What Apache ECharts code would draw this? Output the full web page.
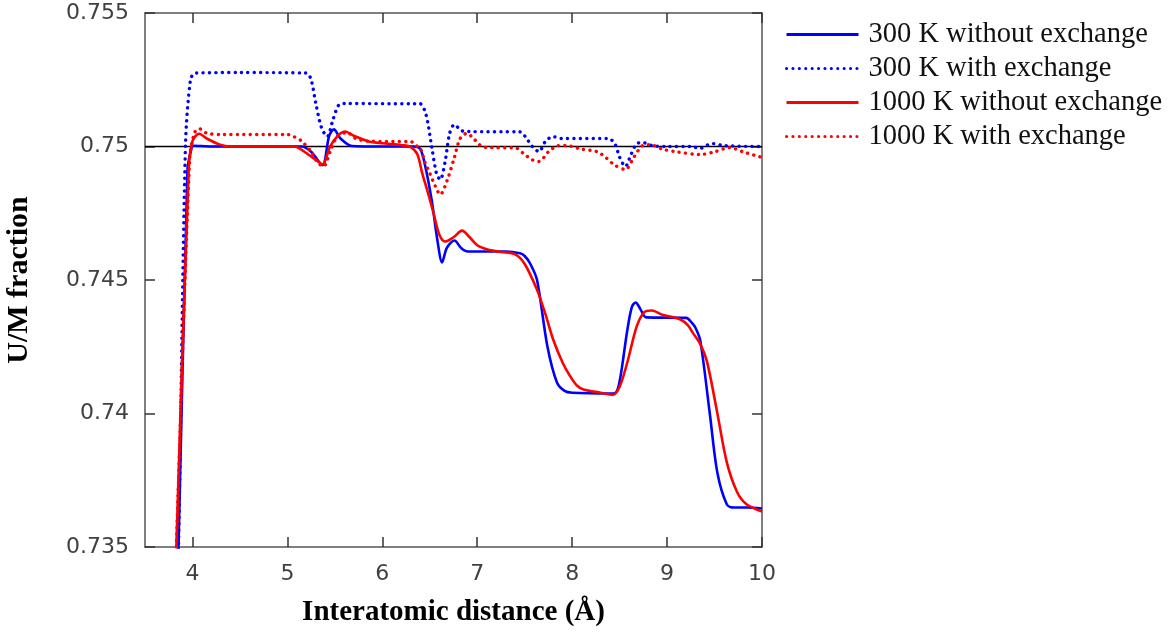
<!DOCTYPE html>
<html>
<head>
<meta charset="utf-8">
<script src="https://cdn.jsdelivr.net/npm/echarts@6/dist/echarts.min.js"></script>
<style>
html,body{margin:0;padding:0;background:#fff;}
#chart{width:1174px;height:635px;}
</style>
</head>
<body>
<div id="chart"></div>
<script>
// ---- data ----
const seriesNames = ['300 K without exchange', '300 K with exchange', '1000 K without exchange', '1000 K with exchange'];
const xTickValues = [4, 5, 6, 7, 8, 9, 10];
const referenceLevel = 0.75;
const xRange = [3.5, 10];
const yRange = [0.735, 0.755];

const k300NoExchange = [
  [3.80, 0.7295], [3.853, 0.735], [3.947, 0.7491], [3.98, 0.74978], [4.01, 0.75003], [4.2, 0.75],
  [5.15, 0.75], [5.25, 0.7498], [5.37, 0.7493], [5.44, 0.7504], [5.49, 0.75064], [5.56, 0.7503],
  [5.68, 0.75002], [6.0, 0.75], [6.33, 0.75], [6.40, 0.7499], [6.45, 0.7493], [6.52, 0.7480],
  [6.58, 0.7465], [6.63, 0.74566], [6.68, 0.7462], [6.76, 0.74648], [6.83, 0.7462], [6.90, 0.74607],
  [7.3, 0.74607], [7.45, 0.746], [7.50, 0.7459], [7.56, 0.7456], [7.63, 0.7450], [7.74, 0.7425],
  [7.84, 0.74116], [7.92, 0.74085], [8.0, 0.74078], [8.4, 0.74075], [8.45, 0.74076], [8.50, 0.7412],
  [8.58, 0.7431], [8.63, 0.7440], [8.67, 0.74416], [8.72, 0.7439], [8.78, 0.7436], [9.2, 0.74358],
  [9.26, 0.7434], [9.30, 0.7432], [9.35, 0.74273], [9.45, 0.7400], [9.53, 0.73778], [9.63, 0.73659],
  [9.70, 0.73648], [9.84, 0.73648], [10.0, 0.73644]
];
const k300Exchange = [
  [3.80, 0.7282], [3.853, 0.735], [3.926, 0.7500], [3.979, 0.7525], [4.03, 0.75275], [4.5, 0.75277],
  [5.20, 0.75275], [5.25, 0.7525], [5.30, 0.7516], [5.36, 0.7507], [5.42, 0.75037], [5.48, 0.7510],
  [5.54, 0.75155], [5.60, 0.75161], [6.35, 0.7516], [6.40, 0.7516], [6.46, 0.7512], [6.52, 0.7500],
  [6.57, 0.7490], [6.61, 0.74876], [6.66, 0.7494], [6.71, 0.7505], [6.76, 0.75082], [6.83, 0.7506],
  [6.90, 0.75056], [7.45, 0.75055], [7.52, 0.7503], [7.58, 0.7500], [7.65, 0.74981], [7.72, 0.7502],
  [7.80, 0.75037], [7.88, 0.7503], [8.38, 0.7503], [8.45, 0.7501], [8.50, 0.7496], [8.56, 0.74925],
  [8.62, 0.7497], [8.68, 0.7501], [8.74, 0.75015], [8.85, 0.75003], [9.0, 0.75], [9.25, 0.75],
  [9.35, 0.74993], [9.42, 0.75005], [9.48, 0.75011], [9.6, 0.75003], [10.0, 0.75]
];
const k1000NoExchange = [
  [3.78, 0.7295], [3.83, 0.735], [3.96, 0.7491], [4.0, 0.7502], [4.07, 0.75048], [4.15, 0.7503],
  [4.29, 0.75007], [4.4, 0.75], [5.05, 0.75], [5.10, 0.74998], [5.22, 0.7497], [5.30, 0.7495],
  [5.37, 0.74933], [5.45, 0.7500], [5.53, 0.7504], [5.61, 0.75056], [5.70, 0.7504], [5.85, 0.7502],
  [6.0, 0.75012], [6.2, 0.75005], [6.30, 0.74998], [6.37, 0.7497], [6.42, 0.7490], [6.47, 0.7484],
  [6.54, 0.7475], [6.60, 0.7467], [6.66, 0.74644], [6.75, 0.7466], [6.84, 0.74685], [6.92, 0.7466],
  [7.0, 0.7463], [7.11, 0.74614], [7.25, 0.74605], [7.40, 0.74596], [7.50, 0.7456], [7.63, 0.74463],
  [7.72, 0.7437], [7.80, 0.74277], [7.90, 0.7419], [7.98, 0.74139], [8.05, 0.74105], [8.12, 0.7409],
  [8.30, 0.74078], [8.43, 0.7407], [8.50, 0.7410], [8.58, 0.7419], [8.68, 0.74326], [8.76, 0.7438],
  [8.84, 0.74386], [8.95, 0.7437], [9.14, 0.74352], [9.22, 0.7433], [9.27, 0.74303], [9.35, 0.7426],
  [9.42, 0.74195], [9.53, 0.7400], [9.63, 0.73816], [9.74, 0.73704], [9.84, 0.73659], [10.0, 0.73633]
];
const k1000Exchange = [
  [3.78, 0.7295], [3.83, 0.735], [3.97, 0.7495], [4.02, 0.7505], [4.07, 0.75067], [4.15, 0.7505],
  [4.3, 0.75045], [5.0, 0.75045], [5.05, 0.7504], [5.15, 0.7502], [5.25, 0.7498], [5.32, 0.7494],
  [5.38, 0.74925], [5.45, 0.7498], [5.53, 0.7504], [5.63, 0.75052], [5.72, 0.7503], [5.85, 0.7502],
  [6.30, 0.75018], [6.37, 0.7500], [6.40, 0.74995], [6.45, 0.7494], [6.50, 0.7490], [6.56, 0.7485],
  [6.61, 0.7482], [6.68, 0.7487], [6.76, 0.7496], [6.82, 0.7503], [6.89, 0.75049], [6.96, 0.7503],
  [7.05, 0.7500], [7.14, 0.74996], [7.40, 0.74995], [7.50, 0.7497], [7.58, 0.7495], [7.65, 0.74944],
  [7.75, 0.7498], [7.85, 0.75003], [7.93, 0.75004], [8.1, 0.7499], [8.26, 0.74981], [8.35, 0.7496],
  [8.45, 0.7493], [8.56, 0.74914], [8.65, 0.7496], [8.74, 0.75003], [8.82, 0.75007], [8.95, 0.7499],
  [9.1, 0.7498], [9.35, 0.7497], [9.5, 0.7498], [9.66, 0.74996], [9.8, 0.7498], [10.0, 0.74959]
];

// ---- chart ----
const BLUE = '#0000ff', RED = '#ff0000';
const tickFont = { fontFamily: 'DejaVu Sans', fontSize: 22, color: '#404040' };
const frame = { show: true, onZero: false, lineStyle: { color: '#555', width: 1.5 } };
const dotted = { type: [0.1, 6.3], cap: 'round', width: 3.4 };

function lineSeries(name, data, color, isDotted, z) {
  return {
    name: name, type: 'line', data: data, xAxisIndex: 0, yAxisIndex: 0,
    showSymbol: false, symbol: 'none', smooth: 0.3, clip: true, z: z,
    lineStyle: Object.assign({ color: color }, isDotted ? dotted : { width: 2.6, type: 'solid' }),
    itemStyle: { color: color }
  };
}

const chart = echarts.init(document.getElementById('chart'), null, { renderer: 'canvas' });
chart.setOption({
  animation: false,
  backgroundColor: '#fff',
  grid: { left: 145, right: 412, top: 13, bottom: 88, outerBoundsMode: 'none', containLabel: false },
  legend: {
    left: 785, top: 20, padding: 0, orient: 'vertical', itemWidth: 72, itemHeight: 14, itemGap: 5,
    data: seriesNames,
    itemStyle: { opacity: 0 },
    lineStyle: { width: 3 },
    textStyle: { fontFamily: 'Liberation Serif', fontSize: 28.5, color: '#111', padding: [0, 0, 0, 5], lineHeight: 28 }
  },
  xAxis: [
    {
      type: 'value', position: 'bottom', min: xRange[0], max: xRange[1],
      name: 'Interatomic distance (Å)', nameLocation: 'middle', nameGap: 51,
      nameTextStyle: { fontFamily: 'Liberation Serif', fontWeight: 'bold', fontSize: 29, color: '#000' },
      axisLine: frame, splitLine: { show: false },
      axisTick: { show: true, inside: true, length: 10, customValues: xTickValues, lineStyle: { color: '#333', width: 1.5 } },
      axisLabel: Object.assign({ margin: 16, customValues: xTickValues }, tickFont)
    },
    {
      type: 'value', position: 'top', min: xRange[0], max: xRange[1],
      axisLine: frame, splitLine: { show: false },
      axisTick: { show: true, inside: true, length: 10, customValues: xTickValues, lineStyle: { color: '#333', width: 1.5 } },
      axisLabel: { show: false }
    }
  ],
  yAxis: [
    {
      type: 'value', position: 'left', min: yRange[0], max: yRange[1], interval: 0.005,
      name: 'U/M fraction', nameLocation: 'middle', nameGap: 111, nameRotate: 90,
      nameTextStyle: { fontFamily: 'Liberation Serif', fontWeight: 'bold', fontSize: 30, color: '#000' },
      axisLine: frame, splitLine: { show: false },
      axisTick: { show: true, inside: true, length: 10, lineStyle: { color: '#333', width: 1.5 } },
      axisLabel: Object.assign({ margin: 16 }, tickFont)
    },
    {
      type: 'value', position: 'right', min: yRange[0], max: yRange[1], interval: 0.005,
      axisLine: frame, splitLine: { show: false },
      axisTick: { show: true, inside: true, length: 10, lineStyle: { color: '#333', width: 1.5 } },
      axisLabel: { show: false }
    }
  ],
  series: [
    {
      name: 'reference', type: 'line', data: [[xRange[0], referenceLevel], [xRange[1], referenceLevel]],
      showSymbol: false, symbol: 'none', silent: true, z: 1,
      lineStyle: { color: '#000', width: 1.5 }, itemStyle: { color: '#000' }
    },
    lineSeries(seriesNames[0], k300NoExchange, BLUE, false, 2),
    lineSeries(seriesNames[1], k300Exchange, BLUE, true, 3),
    lineSeries(seriesNames[2], k1000NoExchange, RED, false, 4),
    lineSeries(seriesNames[3], k1000Exchange, RED, true, 5)
  ]
});
</script>
</body>
</html>
